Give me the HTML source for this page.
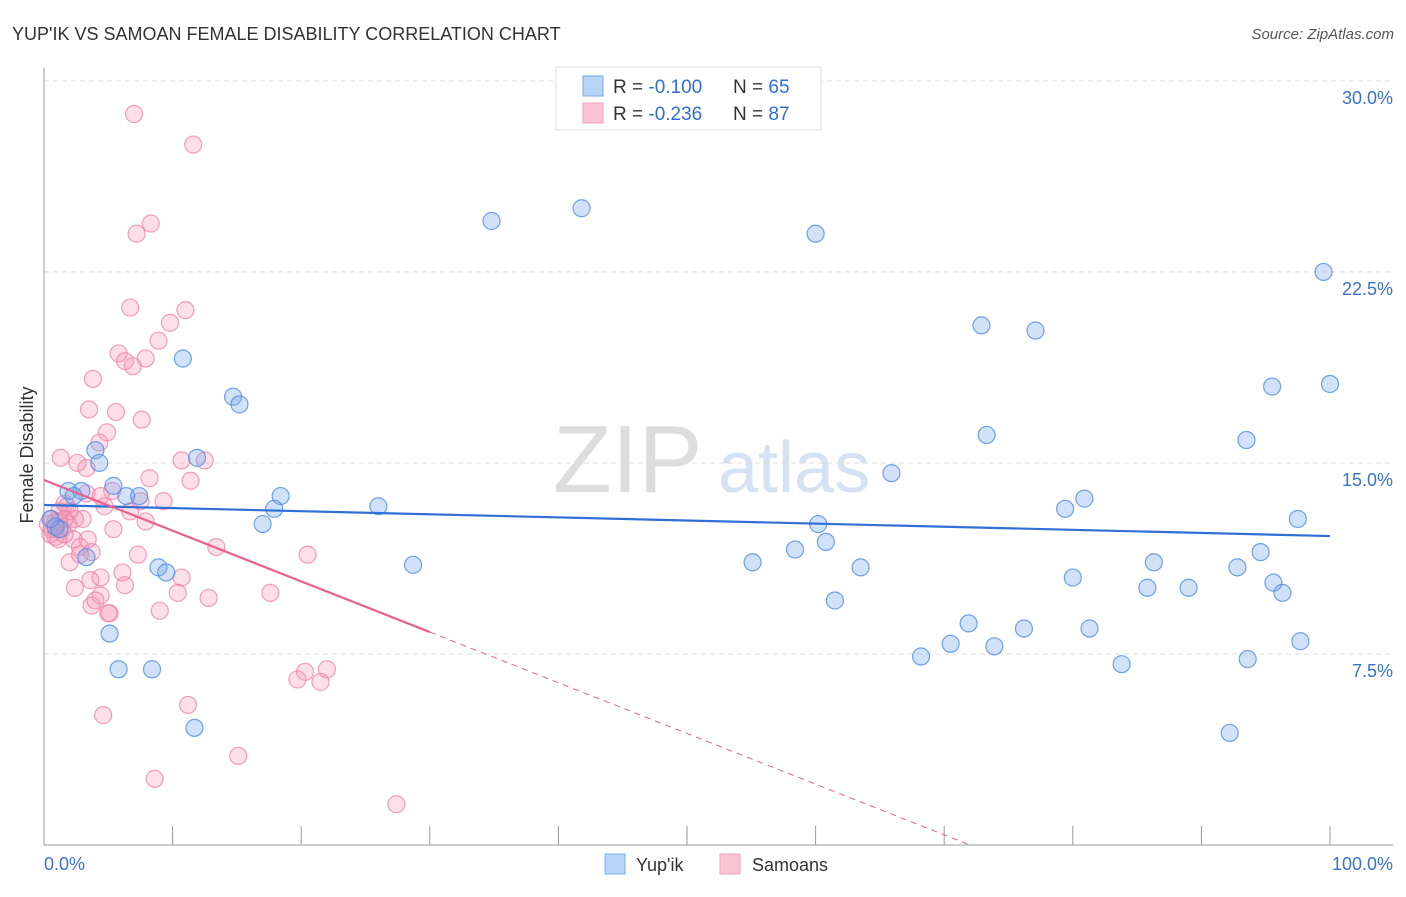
<!DOCTYPE html>
<html><head><meta charset="utf-8"><style>
body{margin:0;background:#fff;font-family:"Liberation Sans",sans-serif}
svg text{font-family:"Liberation Sans",sans-serif}
</style></head><body>
<svg id="c" width="1406" height="892" xmlns="http://www.w3.org/2000/svg">
<text x="12" y="40" font-size="18" fill="#333">YUP'IK VS SAMOAN FEMALE DISABILITY CORRELATION CHART</text>
<text x="1394" y="39" font-size="15" fill="#555" font-style="italic" text-anchor="end">Source: ZipAtlas.com</text>
<text x="33" y="455" font-size="18" fill="#333" text-anchor="middle" transform="rotate(-90 33 455)">Female Disability</text>
<g>
<text x="553" y="492" font-size="96" fill="#ddd" font-family="Liberation Serif">ZIP</text>
<text x="718" y="492" font-size="72" fill="#d4e2f4">atlas</text>
</g>
<g id="grid"></g><g id="axes"></g><g id="pts"></g><g id="lines"></g>
<g>
<rect x="556" y="67" width="265" height="63" fill="#fff" stroke="#ddd"/>
<rect x="583" y="76" width="20" height="20" fill="#b8d4f6" stroke="#7aa8e8"/>
<rect x="583" y="103" width="20" height="20" fill="#fbc4d4" stroke="#f0a0b8"/>
<text x="613" y="93" font-size="19" fill="#333">R = <tspan fill="#2f6fd6">-0.100</tspan></text>
<text x="733" y="93" font-size="19" fill="#333">N = <tspan fill="#2f6fd6">65</tspan></text>
<text x="613" y="120" font-size="19" fill="#333">R = <tspan fill="#2f6fd6">-0.236</tspan></text>
<text x="733" y="120" font-size="19" fill="#333">N = <tspan fill="#2f6fd6">87</tspan></text>
</g>
<g>
<rect x="605" y="854" width="20" height="20" fill="#b8d4f6" stroke="#7aa8e8"/>
<text x="636" y="871" font-size="18" fill="#333">Yup'ik</text>
<rect x="720" y="854" width="20" height="20" fill="#fbc4d4" stroke="#f0a0b8"/>
<text x="752" y="871" font-size="18" fill="#333">Samoans</text>
</g>
</svg>
<script>
const yTicks=[7.5,15,22.5,30];
const yTickLabels=["7.5%","15.0%","22.5%","30.0%"];
const xTickVals=[0,10,20,30,40,50,60,70,80,90,100];
const blueX=[34.8,41.8,60.0,99.5,72.9,77.1,10.8,14.7,15.2,95.5,100,73.3,93.5,4.0,4.3,11.9,65.9,5.4,1.9,2.9,2.3,6.4,7.4,18.4,17.9,26.0,80.9,79.4,17.0,60.2,97.5,60.8,58.4,94.6,3.3,55.1,28.7,8.9,9.5,63.5,86.3,80.0,92.8,95.6,96.3,85.8,89.0,61.5,5.1,71.9,76.2,81.3,70.5,73.9,97.7,68.2,83.8,93.6,5.8,8.4,11.7,92.2,0.9,1.2,0.5];
const blueY=[24.5,25.0,24.0,22.5,20.4,20.2,19.1,17.6,17.3,18.0,18.1,16.1,15.9,15.5,15.0,15.2,14.6,14.1,13.9,13.9,13.7,13.7,13.7,13.7,13.2,13.3,13.6,13.2,12.6,12.6,12.8,11.9,11.6,11.5,11.3,11.1,11.0,10.9,10.7,10.9,11.1,10.5,10.9,10.3,9.9,10.1,10.1,9.6,8.3,8.7,8.5,8.5,7.9,7.8,8.0,7.4,7.1,7.3,6.9,6.9,4.6,4.4,12.5,12.4,12.8];
const pinkX=[7.0,11.6,8.3,7.2,6.7,11.0,9.8,8.9,5.8,7.9,6.3,6.9,3.8,3.5,5.6,7.6,4.9,4.3,1.3,2.6,3.3,12.5,10.7,8.2,11.4,5.3,3.3,4.4,7.5,9.3,1.6,1.8,2.0,4.7,6.7,7.9,3.0,0.6,1.2,1.9,0.9,1.4,0.5,0.9,2.3,3.4,5.4,0.3,2.8,3.7,7.3,13.4,20.5,2.0,2.8,4.4,6.1,6.3,3.6,10.7,2.4,4.4,12.8,10.4,3.7,5.1,9.0,17.6,4.0,20.3,22.0,19.7,21.5,11.2,4.6,15.1,8.6,27.4,5.0,1.2,1.6,0.9,2.4,0.6,1.1,1.6];
const pinkY=[28.7,27.5,24.4,24.0,21.1,21.0,20.5,19.8,19.3,19.1,19.0,18.8,18.3,17.1,17.0,16.7,16.2,15.8,15.2,15.0,14.8,15.1,15.1,14.4,14.3,13.9,13.8,13.7,13.5,13.5,13.4,13.3,13.1,13.3,13.1,12.7,12.8,12.8,12.7,12.6,12.4,12.4,12.2,12.1,12.0,12.0,12.4,12.6,11.7,11.5,11.4,11.7,11.4,11.1,11.4,10.5,10.7,10.2,10.4,10.5,10.1,9.8,9.7,9.9,9.4,9.1,9.2,9.9,9.6,6.8,6.9,6.5,6.4,5.5,5.1,3.5,2.6,1.6,9.1,13.1,12.2,12.7,12.8,12.4,12.0,12.8];
const blueTrend=[13.35,12.13];
const pinkTrend=[14.33,-0.199];
const X0=44,X1=1330,Y0=845,PPY=25.47;
const sx=v=>X0+v*(X1-X0)/100, sy=v=>Y0-v*PPY;
const NS="http://www.w3.org/2000/svg";
function mk(t,a,p){const e=document.createElementNS(NS,t);for(const k in a)e.setAttribute(k,a[k]);p.appendChild(e);return e;}
const grid=document.getElementById('grid'),axes=document.getElementById('axes'),pts=document.getElementById('pts'),lines=document.getElementById('lines');
yTicks.forEach((v,i)=>{
 const g=mk('line',{x1:X0,x2:1393,y1:sy(v),y2:sy(v),stroke:'#ddd','stroke-dasharray':'5,4'},grid);
 
 
 const t=mk('text',{x:1393,y:sy(v)+23,'font-size':18,fill:'#3a72d0','text-anchor':'end'},axes);
 t.textContent=yTickLabels[i];
 
 
});
const ya=mk('line',{x1:X0,x2:X0,y1:68,y2:Y0,stroke:'#999'},axes);


const xa=mk('line',{x1:X0,x2:1393,y1:Y0,y2:Y0,stroke:'#999'},axes);


xTickVals.forEach(v=>{
 const t=mk('line',{x1:sx(v),x2:sx(v),y1:Y0,y2:Y0-19,stroke:'#999'},axes);
 
 
});
const l0=mk('text',{x:44,y:870,'font-size':18,fill:'#3a72d0'},axes);l0.textContent='0.0%';


const l1=mk('text',{x:1393,y:870,'font-size':18,fill:'#3a72d0','text-anchor':'end'},axes);l1.textContent='100.0%';


pinkX.forEach((x,i)=>{
 const c=mk('circle',{cx:sx(x),cy:sy(pinkY[i]),r:8.5,fill:'rgba(244,150,180,0.3)',stroke:'rgba(236,130,165,0.75)','stroke-width':1.2},pts);
 
 
});
blueX.forEach((x,i)=>{
 const c=mk('circle',{cx:sx(x),cy:sy(blueY[i]),r:8.5,fill:'rgba(120,170,235,0.35)',stroke:'rgba(80,140,225,0.8)','stroke-width':1.2},pts);
 
 
});
const bl=mk('line',{x1:sx(0),y1:sy(blueTrend[0]),x2:sx(100),y2:sy(blueTrend[1]),stroke:'#2f6fd6','stroke-width':2.2},lines);


const pEnd=30, pZero=-pinkTrend[0]/pinkTrend[1];
const pl=mk('line',{x1:sx(0),y1:sy(pinkTrend[0]),x2:sx(pEnd),y2:sy(pinkTrend[0]+pinkTrend[1]*pEnd),stroke:'#e8608f','stroke-width':2.2},lines);


const pd=mk('line',{x1:sx(pEnd),y1:sy(pinkTrend[0]+pinkTrend[1]*pEnd),x2:sx(pZero),y2:sy(0),stroke:'#e8608f','stroke-width':1,'stroke-dasharray':'6,5'},lines);


</script>
</body></html>
